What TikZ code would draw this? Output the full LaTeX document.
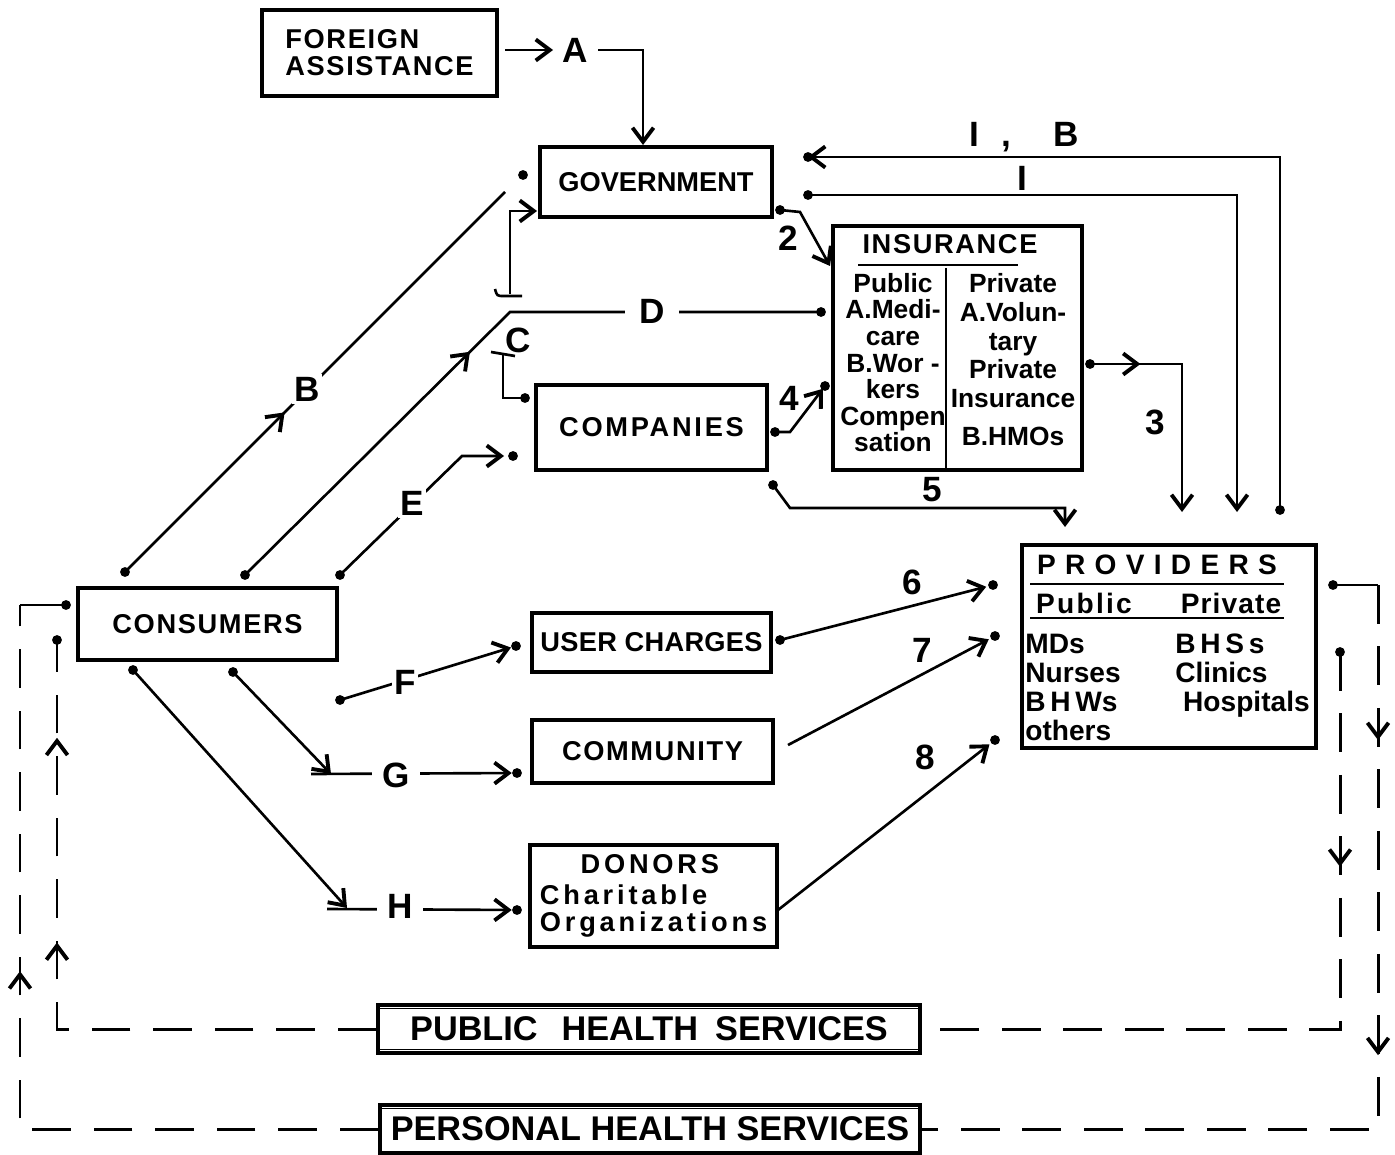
\documentclass[tikz,border=0pt]{standalone}
\usepackage{fontspec}
\setmainfont{Liberation Sans}
\usetikzlibrary{arrows.meta,decorations.markings}

\newcommand\boxfont{\fontsize{15.5}{15.4}\selectfont\bfseries\addfontfeatures{LetterSpace=6}}
\newcommand\lblfont{\fontsize{20}{20}\selectfont\bfseries}
\newcommand\provfont{\fontsize{16}{16.4}\selectfont\bfseries}
\newcommand\svcfont{\fontsize{19.5}{19.5}\selectfont\bfseries}

\begin{document}
\begin{tikzpicture}[x=0.02cm,y=-0.02cm,
    >={Straight Barb[length=8pt,width=12pt,line width=2.2pt]},
    box/.style={draw,line width=1.9pt,inner sep=0pt,font=\boxfont},
    lbl/.style={font=\lblfont,inner sep=1.5pt},
    gaplbl/.style={lbl,fill=white},
    wire/.style={line width=1.5pt},
    dashwire/.style={line width=1.7pt,dash pattern=on 22pt off 13pt},
    midarr/.style={postaction={decorate,decoration={markings,mark=at position #1 with {\arrow{>}}}}}]

\useasboundingbox (0,0) rectangle (1395,1155);

% boxes
\node[box,minimum width=4.7cm,minimum height=1.72cm,align=left] (foreign) at (379.5,53) {FOREIGN\\ASSISTANCE};
\node[box,minimum width=4.64cm,minimum height=1.4cm] (govt) at (656,182) {\addfontfeatures{LetterSpace=0}GOVERNMENT};
\node[box,minimum width=4.98cm,minimum height=4.88cm] (insur) at (957.5,348) {};
\node[box,minimum width=4.62cm,minimum height=1.7cm] (comp) at (651.5,427.5) {\addfontfeatures{LetterSpace=10}COMPANIES};
\node[box,minimum width=5.18cm,minimum height=1.44cm] (cons) at (207.5,624) {CONSUMERS};
\node[box,minimum width=4.78cm,minimum height=1.18cm] (user) at (651.5,642.5) {\addfontfeatures{LetterSpace=1}USER CHARGES};
\node[box,minimum width=4.82cm,minimum height=1.26cm] (comm) at (652.5,751.5) {COMMUNITY};
\node[box,minimum width=4.94cm,minimum height=2.04cm,align=left,
      font=\boxfont\addfontfeatures{LetterSpace=14}] (donors) at (653.5,896)
      {\makebox[4.4cm]{DONORS}\\[2pt]Charitable\\Organizations};
\node[box,minimum width=5.88cm,minimum height=4.06cm] (prov) at (1169,646.5) {};
\node[box,minimum width=10.84cm,minimum height=0.96cm,font=\svcfont] (pubhs) at (649,1029) {PUBLIC\hspace{0.7em}HEALTH\hspace{0.5em}SERVICES};
\node[box,minimum width=10.8cm,minimum height=0.96cm,font=\svcfont] (perhs) at (650,1129) {PERSONAL HEALTH SERVICES};
\draw[line width=1pt] ([yshift=-3pt]pubhs.north west) -- ([yshift=-3pt]pubhs.north east);
\draw[line width=1pt] ([yshift=3pt]pubhs.south west) -- ([yshift=3pt]pubhs.south east);
\draw[line width=1pt] ([yshift=-3pt]perhs.north west) -- ([yshift=-3pt]perhs.north east);

% inside insurance
\node[font=\boxfont,inner sep=0pt] (insT) at (950,244) {INSURANCE};
\draw[wire] (858,265) -- (1018,265);
\coordinate (divtop) at (946,268);
\draw[wire] (divtop) -- (divtop |- insur.south);
\node[font=\fontsize{15}{15.1}\selectfont\bfseries,align=center,anchor=north,inner sep=0pt] (insL) at (893,273)
      {Public\\A.Medi-\\care\\B.Wor -\\kers\\Compen\\sation};
\node[font=\fontsize{15}{16.4}\selectfont\bfseries,align=center,anchor=north,inner sep=0pt] (insR) at (1013,273)
      {Private\\A.Volun-\\tary\\Private\\Insurance\\[5pt]B.HMOs};

% inside providers
\node[font=\provfont\addfontfeatures{LetterSpace=33},inner sep=0pt] (provT) at (1157,565) {PROVIDERS};
\draw[wire] (1030,584) -- (1284,584);
\node[font=\provfont\addfontfeatures{LetterSpace=8},inner sep=0pt] (provPu) at (1084,603) {Public};
\node[font=\provfont\addfontfeatures{LetterSpace=4},inner sep=0pt] (provPr) at (1231,603) {Private};
\draw[wire] (1030,618) -- (1284,618);
\node[font=\provfont,align=left,anchor=north west,inner sep=0pt] (provL) at (1025,634) {MDs\\Nurses\\B\,H\,Ws\\others};
\node[font=\provfont,align=left,anchor=north west,inner sep=0pt] (provR) at (1175,634) {B\,H\,S\,s\\Clinics\\\ Hospitals};

% end points
\coordinate (fA) at (505,50);
\coordinate (aL) at (553,50);
\coordinate (aR) at (598,50);
\coordinate (aT) at (643,145);
\coordinate (ibS) at (1280,510);
\coordinate (ibT) at (808,157);
\coordinate (iS) at (808,195);
\coordinate (iT) at (1237,512);
\coordinate (s2) at (780,210);
\coordinate (t2) at (830,266);
\coordinate (gB) at (510,294);
\coordinate (gL) at (537,211);
\coordinate (cB) at (125,572);
\coordinate (gBt) at (505,192);
\coordinate (gBd) at (523,175);
\coordinate (cC) at (245,575);
\coordinate (jD) at (510,312);
\coordinate (dT) at (821,312);
\coordinate (cT) at (525,398);
\coordinate (cE) at (340,575);
\coordinate (eA) at (504,456);
\coordinate (eT) at (513,456);
\coordinate (s3) at (1090,364);
\coordinate (t3) at (1182,512);
\coordinate (s4) at (775,432);
\coordinate (t4) at (825,386);
\coordinate (s5) at (773,485);
\coordinate (t5) at (1065,527);
\coordinate (s6) at (780,640);
\coordinate (t6) at (993,585);
\coordinate (s7) at (788,745);
\coordinate (t7) at (995,636);
\coordinate (s8) at (778,910);
\coordinate (t8) at (995,740);
\coordinate (sF) at (340,700);
\coordinate (tF) at (516,646);
\coordinate (cG) at (233,672);
\coordinate (gC) at (331,774);
\coordinate (tG) at (517,773);
\coordinate (cH) at (133,670);
\coordinate (hC) at (347,908);
\coordinate (tH) at (517,910);
\coordinate (lo) at (20,605);
\coordinate (loT) at (66,605);
\coordinate (li) at (57,640);
\coordinate (ri) at (1340,652);
\coordinate (ro) at (1333,585);
\coordinate (roc) at (1378,585);

% connectors
\draw[wire,->] (fA) -- (aL);
\draw[wire,->] (aR) -| (aT);
\draw[wire,->] (ibS) |- (ibT);
\draw[wire,->] (iS) -| (iT);
\draw[wire,->] (s2) -- (800,212) -- (t2);
\draw[wire,->] (gB) |- (gL);
\draw[wire] (495,289) .. controls (497,296) .. (504,296) -- (522,296);
\draw[wire,midarr=0.42] (cB) -- (gBt);
\draw[wire,midarr=0.463] (cC) -- (jD) -- (dT);
\draw[wire] (503,355) |- (cT);
\draw[wire] (491,352) -- (515,356);
\draw[wire,->] (cE) -- (462,456) -- (eA);
\draw[wire,->,midarr=0.21] (s3) -| (t3);
\draw[wire,->,shorten >=2pt] (s4) -- (790,432) -- (t4);
\draw[wire,->] (s5) -- (790,508) -| (t5);
\draw[wire,->,shorten >=4pt] (s6) -- (t6);
\draw[wire,->,shorten >=4pt] (s7) -- (t7);
\draw[wire,->,shorten >=4pt] (s8) -- (t8);
\draw[wire,->,shorten >=3pt] (sF) -- (tF);
\draw[wire,->] (cG) -- (gC);
\draw[wire,->,shorten >=3pt] (311,774) -- (tG);
\draw[wire,->] (cH) -- (hC);
\draw[wire,->,shorten >=3pt] (327,909) -- (tH);

% service loops
\draw[dashwire,midarr=0.585] (perhs.west) -| (lo);
\draw[wire] (lo) -- (loT);
\draw[dashwire,midarr=0.573,midarr=0.862] (pubhs.west) -| (li);
\draw[dashwire,midarr=0.27] (ri) |- (pubhs.east);
\draw[wire] (ro) -- (roc);
\draw[dashwire,midarr=0.155,midarr=0.47] (roc) |- (perhs.east);

\foreach \p in {ibS,ibT,iS,s2,gBd,cB,cC,dT,cT,cE,eT,s3,s4,t4,s5,s6,t6,t7,t8,sF,tF,cG,tG,cH,tH,loT,li,ri,ro}
  \fill (\p) circle (2.8pt);

% labels
\node[lbl] (lA) at (575,50) {A};
\node[lbl] (lIB) at (1024,137) {I\hspace{13pt},\hspace{24pt}B};
\node[lbl] (lI) at (1022,178) {I};
\node[lbl] (l2) at (788,238) {2};
\node[gaplbl] (lB) at (307,389) {B};
\node[lbl] (lC) at (518,340) {C};
\node[gaplbl,inner xsep=8pt] (lD) at (652,311) {D};
\node[gaplbl] (lE) at (412,503) {E};
\node[lbl] (l3) at (1155,422) {3};
\node[lbl] (l4) at (789,398) {4};
\node[lbl] (l5) at (932,490) {5};
\node[lbl] (l6) at (912,582) {6};
\node[lbl] (l7) at (922,650) {7};
\node[lbl] (l8) at (925,757) {8};
\node[gaplbl] (lF) at (405,682) {F};
\node[gaplbl,inner xsep=6pt] (lG) at (396,775) {G};
\node[gaplbl,inner xsep=6pt] (lH) at (400,906) {H};

\end{tikzpicture}
\end{document}
